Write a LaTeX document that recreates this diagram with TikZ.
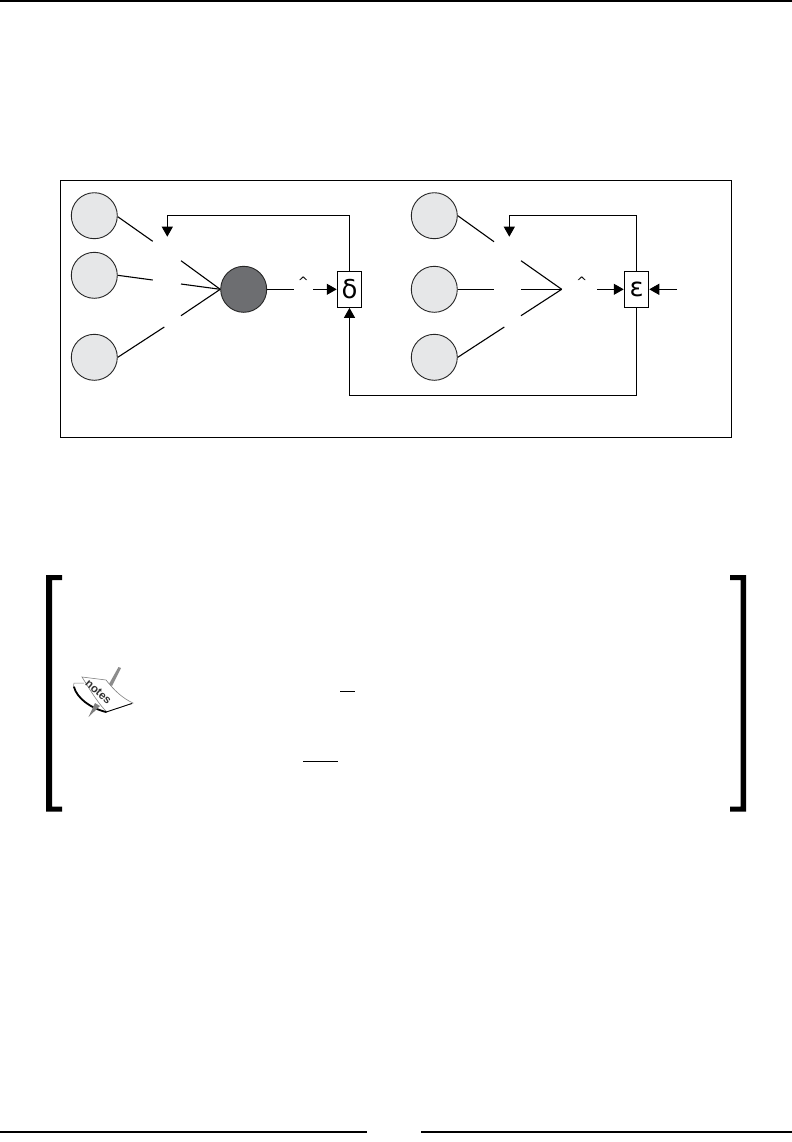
\documentclass[tikz,border=0pt]{standalone}
\usepackage{fontspec}
\setmainfont{DejaVu Sans}
\newfontfamily\notefont{Liberation Sans}
\usetikzlibrary{arrows.meta}
\definecolor{lightnode}{RGB}{230,231,232}
\definecolor{darknode}{RGB}{109,110,113}
\tikzset{
  x=1bp,y=-1bp,
  every path/.style={line width=1.1bp},
  unit/.style={circle,draw=black!85,line width=0.9bp,fill=lightnode,minimum size=46bp,inner sep=0pt},
  darkunit/.style={unit,fill=darknode},
  opbox/.style={rectangle,draw=black,fill=white,minimum width=24.4bp,minimum height=36bp,inner sep=0pt,font=\fontsize{26}{26}\selectfont},
  hatmark/.style={inner sep=0pt,font=\fontsize{13}{13}\selectfont},
  wire/.style={draw=black,line width=1.1bp},
  arrowwire/.style={wire,-{Triangle[length=10bp,width=11bp]},shorten >=0pt},
  rule/.style={draw=black,line width=2bp},
  bracket/.style={fill=black,draw=none}
}
\begin{document}
\begin{tikzpicture}
\useasboundingbox (0,0) rectangle (792,1142);
\fill[white] (0,0) rectangle (792,1142);
% page rules
\coordinate (tl) at (0,0.8); \coordinate (tr) at (792,0.8);
\coordinate (bl1) at (0,1132.3); \coordinate (bl2) at (367,1132.3);
\coordinate (br1) at (421,1132.3); \coordinate (br2) at (792,1132.3);
\draw[rule] (tl) -- (tr);
\draw[rule] (bl1) -- (bl2);
\draw[rule] (br1) -- (br2);
% frame
\draw[wire] (60.5,180.5) rectangle (731.5,437.5);
% nodes
\node[unit] (a1) at (94.3,215.7) {};
\node[unit] (a2) at (94.3,275.3) {};
\node[unit] (a3) at (94.3,357.3) {};
\node[darkunit] (n) at (243.7,289.3) {};
\node[unit] (b1) at (434.3,215.7) {};
\node[unit] (b2) at (434.3,289.3) {};
\node[unit] (b3) at (434.3,357.3) {};
\node[opbox] (d) at (349.5,289.3) {δ};
\node[opbox] (e) at (636.5,289.3) {ε};
\node[hatmark] (h1) at (303.3,282) {\^{}};
\node[hatmark] (h2) at (581.7,282) {\^{}};
% free ends
\coordinate (a1e) at (152.7,241.3);
\coordinate (a2e) at (152.7,280);
\coordinate (a3e) at (164.3,327);
\coordinate (i1) at (181,260.7);
\coordinate (i2) at (181,284);
\coordinate (i3) at (181,315.7);
\coordinate (b1e) at (494,241.7);
\coordinate (b2e) at (494,289.3);
\coordinate (b3e) at (504.3,327);
\coordinate (j1) at (521,260.7);
\coordinate (j2) at (521,289.3);
\coordinate (j3) at (521,315.7);
\coordinate (sum) at (561.7,289.3);
\coordinate (o1) at (293.7,289.3);
\coordinate (o2) at (313,289.3);
\coordinate (o3) at (597,289.3);
\coordinate (o4) at (677,289.3);
\coordinate (fb1) at (167.3,236.7);
\coordinate (fb2) at (509.3,236.7);
% left wires
\draw[wire] (a1.east) ++(0,1) -- (a1e);
\draw[wire] (a2.east) -- (a2e);
\draw[wire] (a3.east) -- (a3e);
\draw[wire] (i1) -- (n.west);
\draw[wire] (i2) -- (n.west);
\draw[wire] (i3) -- (n.west);
\draw[wire] (n.east) -- (o1);
\draw[arrowwire] (o2) -- (d.west);
\draw[arrowwire] (d.north) |- (fb1 |- 0,215.3) -- (fb1);
% right wires
\draw[wire] (b1.east) -- (b1e);
\draw[wire] (b2.east) -- (b2e);
\draw[wire] (b3.east) -- (b3e);
\draw[wire] (j1) -- (sum);
\draw[wire] (j2) -- (sum);
\draw[wire] (j3) -- (sum);
\draw[arrowwire] (o3) -- (e.west);
\draw[arrowwire] (o4) -- (e.east);
\draw[arrowwire] (e.north) |- (fb2 |- 0,215.3) -- (fb2);
\draw[arrowwire] (e.south) |- (d.south |- 0,395.3) -- (d.south);
% note brackets
\fill[bracket] (62,575) -- (46,575) -- (46,811.7) -- (62,811.7) -- (62,806.7) -- (52,806.7) -- (52,580) -- (62,580) -- cycle;
\fill[bracket] (730,575) -- (746,575) -- (746,811.7) -- (730,811.7) -- (730,806.7) -- (740.7,806.7) -- (740.7,580) -- (730,580) -- cycle;
% fraction bars
\coordinate (f1a) at (340,691.3); \coordinate (f1b) at (355,691.3);
\coordinate (f2a) at (303,761.3); \coordinate (f2b) at (338,761.3);
\draw[wire] (f1a) -- (f1b);
\draw[wire] (f2a) -- (f2b);
% notes icon
\fill[black!45] (121,668) -- (118.5,667) -- (109,684) -- (112,686) -- cycle;
\draw[black!50,line width=0.5bp] (73.5,686) -- (74,683) -- (84,683);
\draw[black!50,line width=0.6bp,fill=white] (82,677) -- (106,680) .. controls (114,690) and (122,698) .. (133,703) -- (107,712) .. controls (100,706) and (90,690) .. cycle;
\draw[black,line width=1.8bp,line cap=round] (74,687) .. controls (77,698) and (90,708) .. (106,712);
\draw[black,line width=0.8bp] (106,712) -- (132,703.5);
\fill[black!50] (95,703) -- (100,706) -- (88.5,717) -- cycle;
\node[rotate=-42,inner sep=0pt,font=\notefont\bfseries\fontsize{11.5}{11.5}\selectfont,text=black!80] (nt) at (98.5,692) {notes};
\end{tikzpicture}
\end{document}
